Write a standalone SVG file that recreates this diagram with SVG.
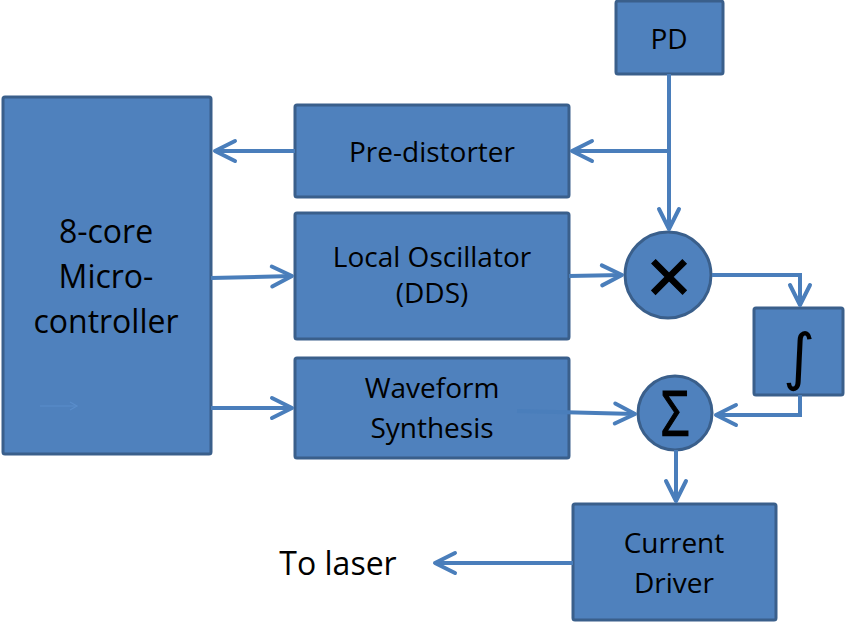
<svg xmlns="http://www.w3.org/2000/svg" width="853" height="623" viewBox="0 0 853 623">
<defs>
<style>
.box{fill:#4F81BD;stroke:#3A5F8B;stroke-width:3}
.t{font-family:"Open Sans","Liberation Sans",sans-serif;font-size:28px;fill:#000;text-anchor:middle}
.big{font-size:32px}
.c{fill:none;stroke:#4A7EBB;stroke-width:4}
</style>
<marker id="ah" markerUnits="userSpaceOnUse" markerWidth="30" markerHeight="30" viewBox="-24 -15 30 30" refX="0" refY="0" orient="auto" overflow="visible">
<path d="M-20,-10 L0,0 L-20,10" fill="none" stroke="#4A7EBB" stroke-width="4" stroke-linecap="round" stroke-linejoin="round"/>
</marker>
<marker id="ahs" markerUnits="userSpaceOnUse" markerWidth="12" markerHeight="12" viewBox="-10 -6 12 12" refX="0" refY="0" orient="auto" overflow="visible">
<path d="M-7,-4 L0,0 L-7,4" fill="none" stroke="#5A8DCB" stroke-width="1.2"/>
</marker>
</defs>
<rect width="853" height="623" fill="#fff"/>
<g id="mcu">
<rect class="box" x="3" y="97" width="208" height="357" rx="2"/>
<text class="t big" x="106" y="243">8-core</text>
<text class="t big" x="106" y="288">Micro-</text>
<text class="t big" x="106" y="333">controller</text>
<path d="M40,406 H77" fill="none" stroke="#5A8DCB" stroke-width="1.2" marker-end="url(#ahs)"/>
</g>
<g id="pd">
<rect class="box" x="616" y="1" width="107" height="73" rx="2"/>
<text class="t" x="669" y="49">PD</text>
</g>
<g id="predistorter">
<rect class="box" x="295" y="105" width="274" height="92" rx="2"/>
<text class="t" x="432" y="162">Pre-distorter</text>
</g>
<g id="lo">
<rect class="box" x="295" y="213" width="274" height="126" rx="2"/>
<text class="t" x="432" y="267">Local Oscillator</text>
<text class="t" x="432" y="303">(DDS)</text>
</g>
<g id="ws">
<rect class="box" x="295" y="358" width="274" height="100" rx="2"/>
<text class="t" x="432" y="398">Waveform</text>
<text class="t" x="432" y="438">Synthesis</text>
</g>
<g id="mult">
<circle class="box" cx="668" cy="275" r="43"/>
<text x="669" y="303" stroke="#000" stroke-width="1" style="font-family:'Liberation Sans',sans-serif;font-size:78px;text-anchor:middle;fill:#000">×</text>
</g>
<g id="integ">
<rect class="box" x="754" y="308" width="89" height="87" rx="2"/>
<text x="799" y="378" style="font-family:'DejaVu Sans',sans-serif;font-size:62px;text-anchor:middle;fill:#000">∫</text>
</g>
<g id="sum">
<circle class="box" cx="675" cy="413" r="37"/>
<text class="t" x="675" y="436" stroke="#000" stroke-width="1.2" style="font-size:62px" transform="translate(675,0) scale(0.8,1) translate(-675,0)">Σ</text>
</g>
<g id="driver">
<rect class="box" x="573" y="504" width="203" height="116" rx="2"/>
<text class="t" x="674" y="553">Current</text>
<text class="t" x="674" y="593">Driver</text>
</g>
<g id="laser">
<text class="t big" x="338" y="575">To laser</text>
</g>
<g id="connectors">
<path class="c" d="M669,74 V229" marker-end="url(#ah)"/>
<path class="c" d="M669,151 H572" marker-end="url(#ah)"/>
<path class="c" d="M295,151 H215" marker-end="url(#ah)"/>
<path class="c" d="M211,278 L292,276" marker-end="url(#ah)"/>
<path class="c" d="M211,408 H292" marker-end="url(#ah)"/>
<path class="c" d="M569,276 L622,275" marker-end="url(#ah)"/>
<path class="c" d="M712,275 H800 V305" marker-end="url(#ah)"/>
<path class="c" d="M800,395 V415 H716" marker-end="url(#ah)"/>
<path class="c" d="M517,411 L635,414" marker-end="url(#ah)"/>
<path class="c" d="M676,450 V501" marker-end="url(#ah)"/>
<path class="c" d="M573,563 H435" marker-end="url(#ah)"/>
</g>
</svg>
